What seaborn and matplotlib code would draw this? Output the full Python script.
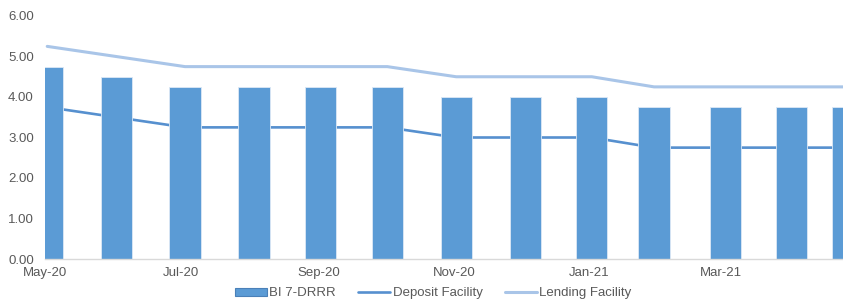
import pandas as pd
import matplotlib
matplotlib.use("Agg")
import matplotlib.pyplot as plt
import seaborn as sns
from matplotlib.patches import Patch
from matplotlib.lines import Line2D

# ==================================================
# Data (policy rates, %) - dates
# ==================================================
dates = pd.to_datetime([
    "2020-05-02", "2020-06-02", "2020-07-03", "2020-08-03", "2020-09-02",
    "2020-10-02", "2020-11-02", "2020-12-03", "2021-01-02", "2021-01-30",
    "2021-03-03", "2021-04-02", "2021-04-27",
])
bi_rate = [4.75, 4.50, 4.25, 4.25, 4.25, 4.25, 4.00, 4.00, 4.00, 3.75, 3.75, 3.75, 3.75]
deposit = [3.75, 3.50, 3.25, 3.25, 3.25, 3.25, 3.00, 3.00, 3.00, 2.75, 2.75, 2.75, 2.75]
lending = [5.25, 5.00, 4.75, 4.75, 4.75, 4.75, 4.50, 4.50, 4.50, 4.25, 4.25, 4.25, 4.25]
tick_months = pd.date_range("2020-05-01", periods=6, freq="2MS")
yticks = [0, 1, 2, 3, 4, 5, 6]

start = pd.Timestamp("2020-05-01")
df = pd.DataFrame({
    "day": (dates - start).days,
    "BI 7-DRRR": bi_rate,
    "Deposit Facility": deposit,
    "Lending Facility": lending,
})

BAR = "#5B9BD5"
DEP = "#5690CF"
LEND = "#A9C5E8"
GREY = "#595959"

sns.set_style("white")
plt.rcParams["font.family"] = ["Liberation Sans", "DejaVu Sans"]

fig = plt.figure(figsize=(8.43, 3.0), dpi=100)
ax = fig.add_axes([45 / 843, 41 / 300, 1 - 45 / 843, 243 / 300])

# bar width of ~14 days (seaborn scales width by the smallest gap, 25 days)
sns.lineplot(data=df, x="day", y="Deposit Facility", color=DEP, lw=1.9, ax=ax, zorder=1)
sns.barplot(data=df, x="day", y="BI 7-DRRR", native_scale=True, width=14 / 25,
            color=BAR, saturation=1, linewidth=0.6, edgecolor="#DCE8F5", ax=ax, zorder=2)
sns.lineplot(data=df, x="day", y="Lending Facility", color=LEND, lw=2.2, ax=ax, zorder=3)

ax.set_xlim(0, 359)
ax.set_ylim(0, 6)
ax.set_xlabel("")
ax.set_ylabel("")

ax.set_xticks((tick_months - start).days)
ax.set_xticklabels([d.strftime("%b-%y") for d in tick_months], color=GREY, fontsize=9.5)
ax.set_yticks(yticks)
ax.set_yticklabels([f"{v:.2f}" for v in yticks], color=GREY, fontsize=9.5)

ax.tick_params(axis="x", length=4, width=0.8, color="#D9D9D9", pad=2)
ax.tick_params(axis="y", length=0, pad=8)
for side in ["top", "right", "left"]:
    ax.spines[side].set_visible(False)
ax.spines["bottom"].set_color("#D9D9D9")
ax.spines["bottom"].set_linewidth(1.0)

handles = [
    Patch(facecolor=BAR, edgecolor="#4A80B8", linewidth=0.8, label="BI 7-DRRR"),
    Line2D([0], [0], color=DEP, lw=1.9, label="Deposit Facility"),
    Line2D([0], [0], color=LEND, lw=2.2, label="Lending Facility"),
]
fig.legend(handles=handles, loc="center", bbox_to_anchor=(0.514, 0.022), ncol=3,
           frameon=False, fontsize=9.5, labelcolor=GREY, handlelength=2.4,
           handleheight=0.6, handletextpad=0.2, columnspacing=1.7)

fig.savefig("out.png", dpi=100)
